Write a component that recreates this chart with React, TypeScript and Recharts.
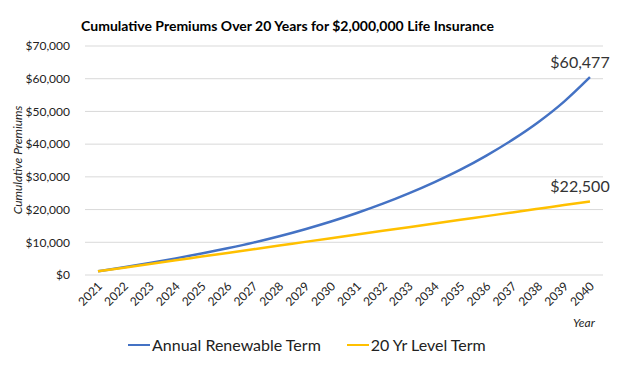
import { LineChart, Line, XAxis, YAxis, CartesianGrid } from 'recharts'

const years = [
  '2021', '2022', '2023', '2024', '2025', '2026', '2027', '2028', '2029', '2030',
  '2031', '2032', '2033', '2034', '2035', '2036', '2037', '2038', '2039', '2040',
]

const annualRenewable = [
  1125, 2380, 3680, 5080, 6580, 8180, 9900, 11850, 14000, 16350,
  18950, 21800, 24950, 28400, 32200, 36500, 41300, 46700, 53000, 60477,
]

const levelTerm = [
  1125, 2250, 3375, 4500, 5625, 6750, 7875, 9000, 10125, 11250,
  12375, 13500, 14625, 15750, 16875, 18000, 19125, 20250, 21375, 22500,
]

const yTicks = [0, 10000, 20000, 30000, 40000, 50000, 60000, 70000]

const data = years.map((year, i) => ({
  year,
  art: annualRenewable[i],
  level: levelTerm[i],
}))

const BLUE = '#4472C4'
const YELLOW = '#FFC000'
const FONT = 'Lato, "Open Sans", sans-serif'

const money = (v: number) => '$' + v.toLocaleString('en-US')

const YearTick = ({ x, y, payload }: any) => (
  <text
    transform={`translate(${x + 5},${y + 4}) rotate(-45)`}
    textAnchor='end'
    fontSize={12}
    fontFamily={FONT}
    fill='#222'
  >
    {payload.value}
  </text>
)

const endLabel = (props: any) => {
  const { x, y, index, value } = props
  if (index !== years.length - 1) return null
  return (
    <text x={x - 10} y={y - 9} textAnchor='middle' fontSize={16} fontFamily={FONT} fill='#333'>
      {money(value)}
    </text>
  )
}

export default function App() {
  return (
    <div style={{ position: 'absolute', left: 0, top: 0, width: 624, height: 375, background: '#fff', fontFamily: FONT }}>
      <div style={{ position: 'absolute', top: 17, width: 575, textAlign: 'center', fontSize: 14, fontWeight: 700, color: '#000' }}>
        Cumulative Premiums Over 20 Years for $2,000,000 Life Insurance
      </div>
      <div
        style={{
          position: 'absolute',
          left: 17,
          top: 160,
          transform: 'translate(-50%, -50%) rotate(-90deg)',
          whiteSpace: 'nowrap',
          fontSize: 12,
          fontStyle: 'italic',
          color: '#222',
        }}
      >
        Cumulative Premiums
      </div>
      <div style={{ position: 'absolute', left: 573, top: 315, fontSize: 12, fontStyle: 'italic', color: '#222' }}>Year</div>
      <LineChart width={624} height={375} data={data} margin={{ top: 46, right: 21, bottom: 60, left: 0 }}>
        <CartesianGrid vertical={false} stroke='#d9d9d9' />
        <XAxis
          dataKey='year'
          interval={0}
          padding={{ left: 13, right: 13 }}
          axisLine={false}
          tickLine={false}
          tick={<YearTick />}
          height={40}
        />
        <YAxis
          width={85}
          domain={[0, 70000]}
          ticks={yTicks}
          tickFormatter={money}
          axisLine={false}
          tickLine={false}
          tickMargin={9}
          tick={{ fontSize: 12, fill: '#222', fontFamily: FONT }}
        />
        <Line
          type='monotone'
          dataKey='art'
          stroke={BLUE}
          strokeWidth={2.5}
          dot={false}
          isAnimationActive={false}
          label={endLabel}
        />
        <Line
          type='monotone'
          dataKey='level'
          stroke={YELLOW}
          strokeWidth={2.5}
          dot={false}
          isAnimationActive={false}
          label={endLabel}
        />
      </LineChart>
      <div style={{ position: 'absolute', top: 335, left: 128, display: 'flex', alignItems: 'center', fontSize: 16, color: '#222' }}>
        <span style={{ display: 'inline-block', width: 22, height: 2, background: BLUE, marginRight: 2 }} />
        <span>Annual Renewable Term</span>
        <span style={{ display: 'inline-block', width: 22, height: 2, background: YELLOW, marginLeft: 26, marginRight: 2 }} />
        <span>20 Yr Level Term</span>
      </div>
    </div>
  )
}
